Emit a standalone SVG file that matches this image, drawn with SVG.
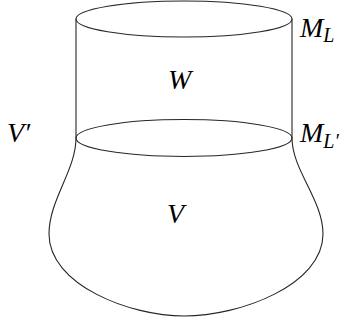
<svg xmlns="http://www.w3.org/2000/svg" width="343" height="323" viewBox="0 0 343 323">
<style>
.ln{fill:none;stroke:#262626;stroke-width:1.1}
.t{font-family:"Liberation Serif","DejaVu Serif",serif;font-style:italic;font-size:28px;fill:#000}
.s{font-family:"Liberation Serif","DejaVu Serif",serif;font-style:italic;font-size:20px;fill:#000}
</style>
<rect width="343" height="323" fill="#fff"/>
<g id="connectors">
<line class="ln" x1="76" y1="19" x2="76" y2="138"/>
<line class="ln" x1="292" y1="19" x2="292" y2="138"/>
</g>
<g id="top-ellipse">
<ellipse class="ln" cx="184" cy="19" rx="108" ry="18"/>
</g>
<g id="middle-ellipse">
<ellipse class="ln" cx="184" cy="138" rx="108" ry="18.5"/>
</g>
<g id="V-body">
<path class="ln" d="M76,138 C76,170 49,200 49,234 C49,285 130,316 184,316 C240,316 323,285 323,234 C323,200 292,170 292,138"/>
</g>
<g id="label-W"><text class="t" x="168" y="89">W</text></g>
<g id="label-V"><text class="t" x="167" y="223">V</text></g>
<g id="label-Vp"><text class="t" x="7" y="142">V′</text></g>
<g id="label-ML"><text class="t" x="300" y="37">M<tspan class="s" dy="5">L</tspan></text></g>
<g id="label-MLp"><text class="t" x="300" y="142">M<tspan class="s" dy="6">L′</tspan></text></g>
</svg>
